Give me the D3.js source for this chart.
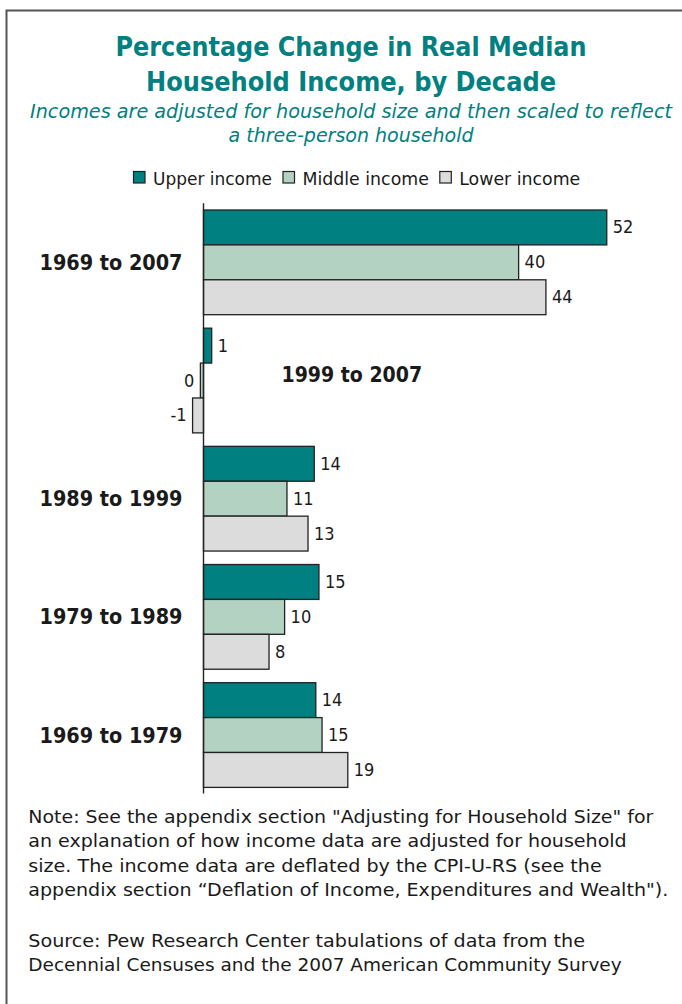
<!DOCTYPE html>
<html>
<head>
<meta charset="utf-8">
<script src="https://cdn.jsdelivr.net/npm/d3@7"></script>
<style>
  html, body { margin: 0; padding: 0; background: #fff; }
  svg { display: block; }
  text { font-family: 'DejaVu Sans Condensed', 'DejaVu Sans', sans-serif; }
</style>
</head>
<body>
<svg id="chart" width="682" height="1004"></svg>
<script>
// ---------------- data ----------------
const categories = ["1969 to 2007", "1999 to 2007", "1989 to 1999", "1979 to 1989", "1969 to 1979"];
const seriesNames = ["Upper income", "Middle income", "Lower income"];
const upperIncome  = [51.7, 1.05, 14.2, 14.8, 14.4];
const middleIncome = [40.4, -0.4, 10.7, 10.4, 15.2];
const lowerIncome  = [43.9, -1.4, 13.4, 8.4, 18.5];
const seriesColors = ["#008080", "#b3d2c1", "#dcdcdc"];

const titleLines = ["Percentage Change in Real Median", "Household Income, by Decade"];
const subtitleLines = ["Incomes are adjusted for household size and then scaled to reflect", "a three-person household"];
const noteLines = [
  "Note: See the appendix section \"Adjusting for Household Size\" for",
  "an explanation of how income data are adjusted for household",
  "size. The income data are deflated by the CPI-U-RS (see the",
  "appendix section \u201CDeflation of Income, Expenditures and Wealth\")."
];
const sourceLines = [
  "Source: Pew Research Center tabulations of data from the",
  "Decennial Censuses and the 2007 American Community Survey"
];

// ---------------- setup ----------------
const svg = d3.select("#chart");
const teal = "#008080";
const ink = "#1a1a1a";

function fit(sel, w) {
  sel.attr("textLength", w).attr("lengthAdjust", "spacingAndGlyphs");
  return sel;
}

// frame
svg.append("rect")
  .attr("x", 6.5).attr("y", 10.5)
  .attr("width", 720).attr("height", 1020)
  .attr("fill", "none").attr("stroke", "#555").attr("stroke-width", 2);

// title
const titleSpec = [{y: 56, w: 471}, {y: 90.5, w: 410}];
titleLines.forEach((t, i) => {
  fit(svg.append("text")
    .attr("x", 351).attr("y", titleSpec[i].y)
    .attr("text-anchor", "middle")
    .attr("font-size", 27).attr("font-weight", "bold")
    .attr("fill", teal).text(t), titleSpec[i].w);
});

// subtitle
const subSpec = [{y: 117.5, w: 642}, {y: 141.8, w: 245}];
subtitleLines.forEach((t, i) => {
  fit(svg.append("text")
    .attr("x", 351).attr("y", subSpec[i].y)
    .attr("text-anchor", "middle")
    .attr("font-size", 19.5).attr("font-style", "italic")
    .attr("fill", teal).text(t), subSpec[i].w);
});

// legend
const legendTextW = [119, 126.3, 121];
let lx = 133;
seriesNames.forEach((name, i) => {
  svg.append("rect")
    .attr("x", lx + 0.5).attr("y", 171.5)
    .attr("width", 11.5).attr("height", 11.5)
    .attr("fill", seriesColors[i]).attr("stroke", "#222").attr("stroke-width", 1.2);
  fit(svg.append("text")
    .attr("x", lx + 20).attr("y", 185)
    .attr("font-size", 18).attr("fill", ink).text(name), legendTextW[i]);
  lx += 20 + legendTextW[i] + 10.5;
});

// ---------------- scales ----------------
const x = d3.scaleLinear().domain([0, 60]).range([203.5, 671.5]);
const y0 = d3.scaleBand().domain(categories).range([210, 787.4]).paddingInner(0.114);
const y1 = d3.scaleBand().domain(seriesNames).range([0, y0.bandwidth()]);

const rows = categories.map((c, i) => ({
  cat: c,
  vals: [upperIncome[i], middleIncome[i], lowerIncome[i]]
}));

const groups = svg.append("g").selectAll("g")
  .data(rows).join("g")
  .attr("transform", d => `translate(0,${y0(d.cat)})`);

groups.selectAll("rect")
  .data(d => d.vals.map((v, j) => ({v, s: seriesNames[j], j})))
  .join("rect")
  .attr("x", d => x(Math.min(0, d.v)))
  .attr("y", d => y1(d.s))
  .attr("width", d => Math.abs(x(d.v) - x(0)))
  .attr("height", y1.bandwidth())
  .attr("fill", d => seriesColors[d.j])
  .attr("stroke", "#222").attr("stroke-width", 1.3);

const fmt = v => String(Math.round(v) || 0);
groups.selectAll("text.val")
  .data(d => d.vals.map((v, j) => ({v, s: seriesNames[j]})))
  .join("text").attr("class", "val")
  .attr("x", d => d.v >= 0 ? x(d.v) + 6 : x(d.v) - 6)
  .attr("y", d => y1(d.s) + y1.bandwidth() / 2 + 6)
  .attr("text-anchor", d => d.v >= 0 ? "start" : "end")
  .attr("font-size", 18).attr("fill", ink)
  .text(d => fmt(d.v));

// axis line
const yr = y0.range();
svg.append("line")
  .attr("x1", x(0)).attr("x2", x(0))
  .attr("y1", yr[0] - 6.7).attr("y2", yr[1] + 6)
  .attr("stroke", "#222").attr("stroke-width", 1.4);

// category labels
groups.append("text")
  .attr("x", d => d3.min(d.vals) < 0 ? x(0) + 78 : x(0) - 21)
  .attr("y", d => y0.bandwidth() / 2 + (d3.min(d.vals) < 0 ? 1.5 : 7.6))
  .attr("text-anchor", d => d3.min(d.vals) < 0 ? "start" : "end")
  .attr("font-size", 21).attr("font-weight", "bold").attr("fill", ink)
  .text(d => d.cat)
  .each(function (d) { fit(d3.select(this), d3.min(d.vals) < 0 ? 140.6 : 143); });

// notes
const noteW = [625, 598.4, 573.4, 640];
const noteY = [823, 847.3, 871.6, 896];
noteLines.forEach((t, i) => {
  fit(svg.append("text")
    .attr("x", 28.3).attr("y", noteY[i])
    .attr("font-size", 18).attr("fill", ink).text(t), noteW[i]);
});
const srcW = [556.7, 593.4];
const srcY = [947, 971.3];
sourceLines.forEach((t, i) => {
  fit(svg.append("text")
    .attr("x", 28.3).attr("y", srcY[i])
    .attr("font-size", 18).attr("fill", ink).text(t), srcW[i]);
});
</script>
</body>
</html>
